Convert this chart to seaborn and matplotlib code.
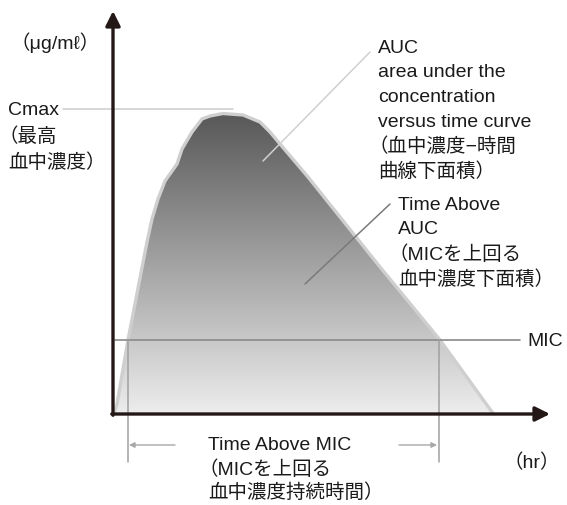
import numpy as np
import matplotlib
matplotlib.use("Agg")
import matplotlib.pyplot as plt
import seaborn as sns
from matplotlib.colors import LinearSegmentedColormap

# Concentration-time curve (hr, concentration in arbitrary units)
time_hr = [0.04, 0.16, 0.6, 0.84, 1.36, 1.56, 1.8, 2.08, 2.56, 2.76, 3.16,
           3.56, 3.88, 4.4, 5.2, 5.88, 6.28, 6.68, 7.36, 7.8, 10.68,
           13.08, 15.16, 15.24]
conc = [0.04, 0.4, 2.96, 4.2, 6.88, 7.8, 8.6, 9.32, 10.0, 10.6, 11.28,
        11.8, 11.92, 12.02, 11.96, 11.68, 11.28, 10.8, 10.0, 9.48, 5.88,
        2.96, 0.08, 0.0]

CMAX = 12.2
MIC = 2.96
T_MIC_START, T_MIC_END = 0.6, 13.04

cmax_lines = ["Cmax", "（最高", "血中濃度）"]
auc_lines = ["AUC", "area under the", "concentration", "versus time curve",
             "（血中濃度−時間", "曲線下面積）"]
tam_auc_lines = ["Time Above", "AUC", "（MICを上回る", "血中濃度下面積）"]
tam_lines = ["Time Above MIC", "（MICを上回る", "血中濃度持続時間）"]

sns.set_theme(style="white")
plt.rcParams['font.family'] = ['Liberation Sans', 'Noto Sans CJK JP', 'DejaVu Sans']

fig = plt.figure(figsize=(5.67, 5.06), dpi=100)
ax = fig.add_axes([0, 0, 1, 1])
ax.set_xlim(-4.52, 18.16)
ax.set_ylim(-3.64, 16.6)
ax.axis('off')

txt = "#1a1a1a"
fs = 14

# gradient-filled area under the curve
poly = ax.fill(time_hr + [0.04], conc + [0.0], facecolor='none', edgecolor='none')[0]
cmap = LinearSegmentedColormap.from_list("g", ["#ededed", "#575757"])
grad = np.linspace(0, 1, 256).reshape(-1, 1)
im = ax.imshow(grad, extent=[0, 16, 0, 12.1], origin='lower', cmap=cmap,
               aspect='auto', zorder=1)
im.set_clip_path(poly)
sns.lineplot(x=time_hr, y=conc, sort=False, color="#cfcfcf", lw=2.4,
             ax=ax, zorder=2)

# axes with arrows
ax.annotate("", xy=(0, 16.12), xytext=(0, -0.05),
            arrowprops=dict(arrowstyle='-|>', color="#231815", lw=2.4,
                            mutation_scale=22, shrinkA=0, shrinkB=0), zorder=5)
ax.annotate("", xy=(17.48, 0), xytext=(-0.05, 0),
            arrowprops=dict(arrowstyle='-|>', color="#231815", lw=2.4,
                            mutation_scale=22, shrinkA=0, shrinkB=0), zorder=5)

# MIC line and time-above-MIC markers
ax.plot([0.08, 16.28], [MIC, MIC], color="#8a8a8a", lw=1.2, zorder=3)
for tx in (T_MIC_START, T_MIC_END):
    ax.plot([tx, tx], [MIC, -1.92], color="#a0a0a0", lw=1.1, zorder=3)
arr = dict(arrowstyle='-|>', color="#a8a8a8", lw=1.0, mutation_scale=8,
           shrinkA=0, shrinkB=0)
ax.annotate("", xy=(T_MIC_START + 0.04, -1.24), xytext=(2.48, -1.24), arrowprops=arr)
ax.annotate("", xy=(T_MIC_END - 0.08, -1.24), xytext=(11.44, -1.24), arrowprops=arr)

# leader lines
ax.plot([-2.0, 4.8], [CMAX, CMAX], color="#cccccc", lw=1.1, zorder=3)
ax.plot([10.28, 6.0], [14.48, 10.12], color="#d0d0d0", lw=1.1, zorder=3)
ax.plot([11.08, 7.68], [8.4, 5.2], color="#7a7a7a", lw=1.1, zorder=3)


def label(x, y, s):
    # full-width opening parenthesis sits at the right of its em box
    if s.startswith("（"):
        x -= 0.38
    ax.text(x, y, s, fontsize=fs, color=txt, ha='left', va='center')


def block(lines, x, y0, step=0.99):
    for i, s in enumerate(lines):
        label(x, y0 - i * step, s)


label(-3.72, 14.88, "（μg/mℓ）")
block(cmax_lines, -4.2, 12.2, 1.06)
block(auc_lines, 10.6, 14.68)
block(tam_auc_lines, 11.4, 8.4, 1.0)
label(16.56, 2.96, "MIC")
block(tam_lines, 3.8, -1.24, 0.94)
label(16.0, -1.92, "（hr）")

fig.savefig("out.png", dpi=100)
